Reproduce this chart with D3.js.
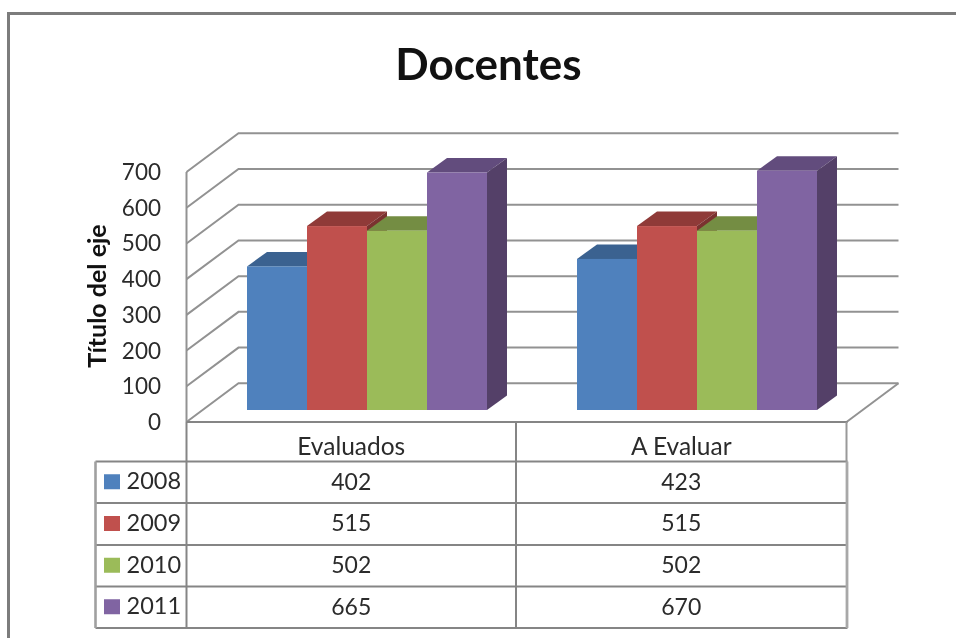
<!DOCTYPE html>
<html><head><meta charset="utf-8">
<script src="https://cdn.jsdelivr.net/npm/d3@7/dist/d3.min.js"></script>
<style>html,body{margin:0;padding:0;background:#fff}svg{display:block;filter:blur(0.6px)}text{font-family:Lato,"Open Sans",sans-serif}</style>
</head><body><svg id="c" width="956" height="638"></svg>
<script>
const title = "Docentes";
const axisTitle = "Título del eje";
const categories = ["Evaluados", "A Evaluar"];
const years = ["2008", "2009", "2010", "2011"];
const values2008 = [402, 423];
const values2009 = [515, 515];
const values2010 = [502, 502];
const values2011 = [665, 670];
const tickValues = [0, 100, 200, 300, 400, 500, 600, 700];
const colors = ["#4f81bd", "#c0504d", "#9bbb59", "#8064a2"];
const topColors = ["#3b6290", "#8f3a38", "#748d43", "#624c7d"];
const sideColors = ["#335478", "#7a3230", "#627838", "#544068"];
const seriesValues = [values2008, values2009, values2010, values2011];

const svg = d3.select("#c");
const gridCol = "#929292", tableCol = "#858585", textCol = "#2b2b2b";

// Box geometry
const frontL = 186.5, frontR = 846.5, wallDx = 52, wallDy = 38.7, floorY = 422;
const y = d3.scaleLinear().domain([0, 700]).range([floorY, 172]);
const barBase = 410, barDx = 20, barDy = 14.5;
const hScale = d3.scaleLinear().domain([0, 700]).range([0, 250]);
const x0 = d3.scaleBand().domain(categories).range([frontL, frontR]);
const x1 = d3.scaleBand().domain(years).range([60.5, 300.5]);

// frame
svg.append("path").attr("d", "M8.5,638V13.5H956").attr("fill", "none").attr("stroke", "#7c7c7c").attr("stroke-width", 3);

svg.append("text").attr("x", 488.5).attr("y", 80).attr("text-anchor", "middle")
  .attr("font-size", 44).attr("font-weight", 700).attr("fill", "#111").text(title);

// walls
const grid = svg.append("g").attr("fill", "none").attr("stroke", gridCol).attr("stroke-width", 2);
tickValues.forEach(t => {
  grid.append("path").attr("d", `M${frontL},${y(t)}L${frontL + wallDx},${y(t) - wallDy}H${frontR + wallDx}`);
});
grid.append("path").attr("d", `M${frontL},${y(700)}V${floorY}`);
grid.append("path").attr("d", `M${frontR},${floorY}L${frontR + wallDx},${floorY - wallDy}`);

// bars
categories.forEach((cat, ci) => {
  years.forEach((yr, si) => {
    const v = seriesValues[si][ci];
    const xl = x0(cat) + x1(yr), w = x1.bandwidth(), yt = barBase - hScale(v);
    const g = svg.append("g").datum(v);
    g.append("path").attr("fill", topColors[si])
      .attr("d", `M${xl},${yt}l${barDx},${-barDy}h${w}l${-barDx},${barDy}z`);
    g.append("path").attr("fill", sideColors[si])
      .attr("d", `M${xl + w},${yt}l${barDx},${-barDy}V${barBase - barDy}l${-barDx},${barDy}z`);
    g.append("rect").attr("x", xl).attr("y", yt).attr("width", w).attr("height", barBase - yt).attr("fill", colors[si]);
  });
});

// y axis labels
svg.append("g").selectAll("text").data(tickValues).join("text")
  .attr("x", 161).attr("y", d => y(d) + 8).attr("text-anchor", "end")
  .attr("font-size", 22.5).attr("fill", textCol).text(d => d);

svg.append("text").attr("transform", "translate(106,296) rotate(-90)").attr("text-anchor", "middle")
  .attr("font-size", 25).attr("font-weight", 700).attr("fill", "#111").text(axisTitle);

// data table
const rowYs = [422, 461.5, 503, 545, 586.5, 628];
const tableL = 95.5, colXs = [frontL, 516, frontR];
const t = svg.append("g").attr("fill", "none").attr("stroke", tableCol).attr("stroke-width", 2);
rowYs.forEach((ry, i) => t.append("path").attr("d", `M${i === 0 ? frontL : tableL},${ry}H${frontR + 1}`));
t.append("path").attr("d", `M${tableL},${rowYs[1]}V${rowYs[5]}`).attr("stroke", "#a0a0a0").attr("stroke-width", 2.6);
t.append("path").attr("d", `M${frontR},${rowYs[0]}V${rowYs[1]}`).attr("stroke", "#999");
t.append("path").attr("d", `M${frontR + 0.5},${rowYs[1]}V${rowYs[5]}`).attr("stroke", "#a8a8a8").attr("stroke-width", 2.8);
colXs.slice(0, 2).forEach(cx => t.append("path").attr("d", `M${cx},${rowYs[0]}V${rowYs[5]}`));

categories.forEach((cat, ci) => {
  const cx = (colXs[ci] + colXs[ci + 1]) / 2;
  svg.append("text").attr("x", cx).attr("y", 455).attr("text-anchor", "middle")
    .attr("font-size", 24.5).attr("fill", textCol).text(cat);
  years.forEach((yr, si) => {
    svg.append("text").attr("x", cx).attr("y", rowYs[si + 1] + 28).attr("text-anchor", "middle")
      .attr("font-size", 23).attr("fill", textCol).text(seriesValues[si][ci]);
  });
});
years.forEach((yr, si) => {
  const my = (rowYs[si + 1] + rowYs[si + 2]) / 2;
  svg.append("rect").attr("x", 104).attr("y", my - 8).attr("width", 16).attr("height", 15).attr("fill", colors[si]);
  svg.append("text").attr("x", 126.5).attr("y", my + 7).attr("font-size", 23.5).attr("fill", textCol).text(yr);
});
</script></body></html>
